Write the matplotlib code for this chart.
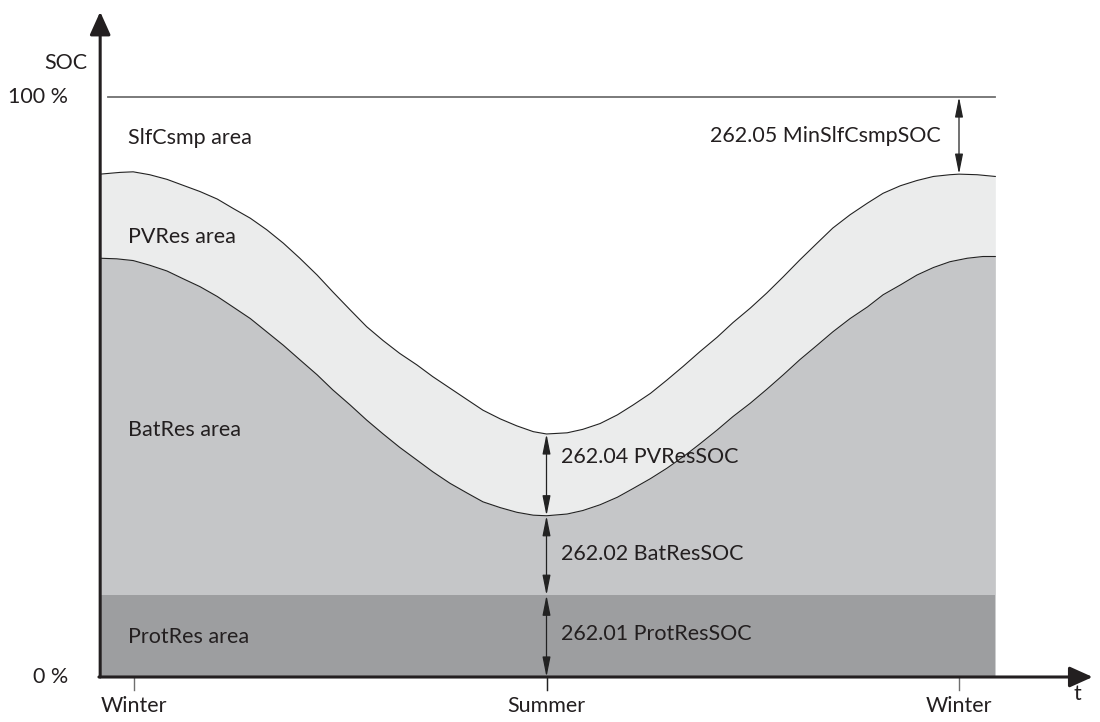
import matplotlib
matplotlib.use('Agg')
import matplotlib.pyplot as plt

# ── Data (t: 0 = Winter, 0.5 = Summer, 1 = Winter; SOC in %) ───────────────
# upper boundary of the PVRes area
t_upper = [-0.041, -0.017, -0.001, 0.019, 0.040, 0.059, 0.080, 0.101, 0.120,
           0.141, 0.161, 0.181, 0.201, 0.222, 0.241, 0.262, 0.282, 0.302,
           0.322, 0.343, 0.362, 0.383, 0.404, 0.423, 0.444, 0.464, 0.484,
           0.5, 0.525, 0.544, 0.565, 0.586, 0.605, 0.626, 0.646, 0.666,
           0.686, 0.707, 0.726, 0.747, 0.767, 0.787, 0.807, 0.828, 0.847,
           0.868, 0.889, 0.908, 0.929, 0.949, 0.969, 0.989, 1.0, 1.022, 1.044]
soc_upper = [86.7, 87.0, 87.1, 86.6, 85.8, 84.8, 83.7, 82.4, 80.8,
             79.1, 77.1, 74.8, 72.2, 69.3, 66.4, 63.3, 60.4, 58.0,
             55.8, 53.8, 51.8, 49.8, 47.8, 46.0, 44.5, 43.3, 42.3,
             41.9, 42.1, 42.7, 43.7, 45.2, 46.9, 48.9, 51.2, 53.6,
             56.1, 58.6, 61.1, 63.6, 66.2, 69.0, 71.9, 74.8, 77.4,
             79.7, 81.7, 83.4, 84.7, 85.6, 86.3, 86.6, 86.7, 86.6, 86.3]

# upper boundary of the BatRes area
t_lower = [-0.041, -0.021, -0.001, 0.019, 0.040, 0.059, 0.080, 0.101, 0.120,
           0.141, 0.161, 0.181, 0.201, 0.222, 0.241, 0.262, 0.282, 0.302,
           0.322, 0.343, 0.362, 0.383, 0.404, 0.423, 0.444, 0.464, 0.484,
           0.5, 0.525, 0.544, 0.565, 0.586, 0.605, 0.626, 0.646, 0.666,
           0.686, 0.707, 0.726, 0.747, 0.767, 0.787, 0.807, 0.828, 0.847,
           0.868, 0.889, 0.908, 0.929, 0.949, 0.969, 0.989, 1.010, 1.029, 1.044]
soc_lower = [72.2, 72.1, 71.8, 71.0, 70.0, 68.7, 67.3, 65.6, 63.8,
             61.8, 59.5, 57.2, 54.7, 52.1, 49.5, 46.9, 44.3, 41.9,
             39.6, 37.4, 35.4, 33.4, 31.7, 30.2, 29.2, 28.4, 27.9,
             27.8, 28.1, 28.7, 29.7, 31.0, 32.5, 34.2, 36.0, 38.0,
             40.2, 42.6, 44.9, 47.2, 49.6, 52.1, 54.7, 57.2, 59.5,
             61.8, 63.8, 65.9, 67.6, 69.3, 70.6, 71.6, 72.2, 72.5, 72.5]

prot_res_soc = 14.1
season_ticks  = [0.0, 0.5, 1.0]
season_labels = ["Winter", "Summer", "Winter"]
area_labels   = ["SlfCsmp area", "PVRes area", "BatRes area", "ProtRes area"]
area_label_y  = [92.9, 75.9, 42.6, 6.9]
param_labels  = ["262.05 MinSlfCsmpSOC", "262.04 PVResSOC",
                 "262.02 BatResSOC", "262.01 ProtResSOC"]

C_PV   = '#ebecec'
C_BAT  = '#c5c6c8'
C_PROT = '#9d9ea0'
C_AX   = '#231f20'
C_GRID = '#6f6f6f'

plt.rcParams['font.family'] = ['Lato', 'DejaVu Sans']
FS = 15.5

fig = plt.figure(figsize=(11, 7.22), dpi=100)
ax = fig.add_axes([0, 0, 1, 1])
# pixel mapping: x px = 134 + 825 t ; y px = 677 - 5.8 SOC
ax.set_xlim(-134 / 825, (1100 - 134) / 825)
ax.set_ylim(-45 / 5.8, 677 / 5.8)
ax.axis('off')

t0, t1 = t_upper[0], t_upper[-1]

# ── Areas ──────────────────────────────────────────────────────────────────
ax.fill_between(t_upper, 0, soc_upper, color=C_PV, lw=0, zorder=1)
ax.fill_between(t_lower, 0, soc_lower, color=C_BAT, lw=0, zorder=2)
ax.fill_between([t0, t1], 0, prot_res_soc, color=C_PROT, lw=0, zorder=3)
ax.plot(t_upper, soc_upper, color='#222222', lw=0.8, zorder=4)
ax.plot(t_lower, soc_lower, color='#222222', lw=0.8, zorder=4)

# 100 % line and 0 % tick
ax.plot([-0.0315, t1], [100, 100], color=C_GRID, lw=1.3, zorder=4)
ax.plot([-0.0315, t0], [0, 0], color=C_GRID, lw=1.3, zorder=4)
for t in season_ticks:
    ax.plot([t, t], [0, -2.2], color=C_GRID, lw=1.0, zorder=4)

# ── Axes with arrows ───────────────────────────────────────────────────────
ax.annotate('', xy=(t0, 114.7), xytext=(t0, 0),
            arrowprops=dict(arrowstyle='-|>,head_length=1.0,head_width=0.45',
                            color=C_AX, lw=2.2, shrinkA=0, shrinkB=0,
                            mutation_scale=14), zorder=6)
ax.annotate('', xy=(1.162, 0), xytext=(t0 - 0.0015, 0),
            arrowprops=dict(arrowstyle='-|>,head_length=1.0,head_width=0.45',
                            color=C_AX, lw=2.2, shrinkA=0, shrinkB=0,
                            mutation_scale=14), zorder=6)

# ── Dimension arrows ───────────────────────────────────────────────────────
def dim_arrow(t, y0, y1):
    ax.annotate('', xy=(t, y1), xytext=(t, y0),
                arrowprops=dict(arrowstyle='<|-|>,head_length=1.1,head_width=0.22',
                                color='#222222', lw=0.9, shrinkA=0, shrinkB=0,
                                mutation_scale=11), zorder=5)

i_win = t_upper.index(1.0)
i_sum_u = t_upper.index(0.5)
i_sum_l = t_lower.index(0.5)
dim_arrow(1.0, soc_upper[i_win], 100)
dim_arrow(0.5, soc_lower[i_sum_l], soc_upper[i_sum_u])
dim_arrow(0.5, prot_res_soc, soc_lower[i_sum_l])
dim_arrow(0.5, 0, prot_res_soc)
ax.plot([0.5, 0.5], [0, -2.2], color='#222222', lw=0.9, zorder=5)

# ── Texts ──────────────────────────────────────────────────────────────────
txt = dict(fontsize=FS, color='#231f20', zorder=7)
ax.text(-0.057, 105.8, "SOC", ha='right', va='center', **txt)
ax.text(-0.08, 100, "100 %", ha='right', va='center', **txt)
ax.text(-0.08, 0, "0 %", ha='right', va='center', **txt)
for t, lab in zip(season_ticks, season_labels):
    ax.text(t, -5.0, lab, ha='center', va='center', **txt)
ax.text(1.143, -3.0, "t", ha='center', va='center', **txt)

for lab, y in zip(area_labels, area_label_y):
    ax.text(-0.0075, y, lab, ha='left', va='center', **txt)

ax.text(0.978, 93.2, param_labels[0], ha='right', va='center', **txt)
ax.text(0.518, (soc_lower[i_sum_l] + soc_upper[i_sum_u]) / 2 + 3.0,
        param_labels[1], ha='left', va='center', **txt)
ax.text(0.518, (prot_res_soc + soc_lower[i_sum_l]) / 2 + 0.2,
        param_labels[2], ha='left', va='center', **txt)
ax.text(0.518, prot_res_soc / 2 + 0.4, param_labels[3],
        ha='left', va='center', **txt)

fig.savefig('out.png', dpi=100)
